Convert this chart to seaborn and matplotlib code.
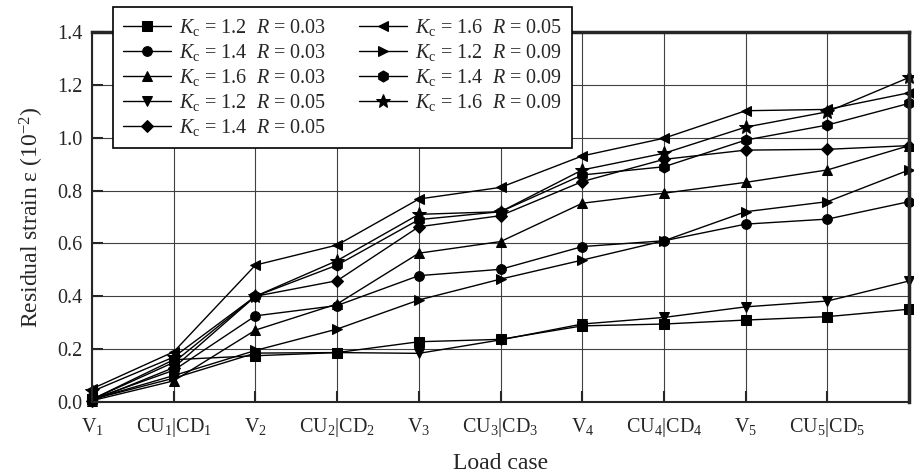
import matplotlib
matplotlib.use("Agg")
import matplotlib.pyplot as plt
import seaborn as sns

# --- data ---
load_cases = [r"V$_1$", r"CU$_1$|CD$_1$", r"V$_2$", r"CU$_2$|CD$_2$", r"V$_3$",
              r"CU$_3$|CD$_3$", r"V$_4$", r"CU$_4$|CD$_4$", r"V$_5$", r"CU$_5$|CD$_5$", ""]
steps = list(range(11))

kc12_r003 = [0.01, 0.16, 0.175, 0.187, 0.228, 0.237, 0.288, 0.295, 0.31, 0.323, 0.351]
kc14_r003 = [0.01, 0.12, 0.326, 0.365, 0.478, 0.502, 0.588, 0.61, 0.673, 0.692, 0.758]
kc16_r003 = [0.005, 0.08, 0.272, 0.371, 0.563, 0.607, 0.752, 0.79, 0.831, 0.878, 0.97]
kc12_r005 = [0.01, 0.09, 0.185, 0.187, 0.184, 0.235, 0.295, 0.32, 0.36, 0.382, 0.458]
kc14_r005 = [0.005, 0.13, 0.40, 0.459, 0.663, 0.705, 0.834, 0.918, 0.953, 0.956, 0.97]
kc16_r005 = [0.05, 0.19, 0.518, 0.594, 0.768, 0.812, 0.931, 0.998, 1.102, 1.107, 1.17]
kc12_r009 = [0.01, 0.10, 0.195, 0.276, 0.386, 0.465, 0.537, 0.61, 0.72, 0.758, 0.878]
kc14_r009 = [0.01, 0.15, 0.40, 0.518, 0.69, 0.72, 0.859, 0.89, 0.991, 1.048, 1.13]
kc16_r009 = [0.04, 0.17, 0.40, 0.535, 0.71, 0.72, 0.878, 0.941, 1.04, 1.098, 1.228]

series = [
    (kc12_r003, "s", "1.2", "0.03"),
    (kc14_r003, "o", "1.4", "0.03"),
    (kc16_r003, "^", "1.6", "0.03"),
    (kc12_r005, "v", "1.2", "0.05"),
    (kc14_r005, "D", "1.4", "0.05"),
    (kc16_r005, "<", "1.6", "0.05"),
    (kc12_r009, ">", "1.2", "0.09"),
    (kc14_r009, "h", "1.4", "0.09"),
    (kc16_r009, "*", "1.6", "0.09"),
]

sns.set_style("ticks")
plt.rcParams["font.family"] = ["Liberation Serif", "DejaVu Serif"]
plt.rcParams["mathtext.fontset"] = "custom"
plt.rcParams["mathtext.rm"] = "Liberation Serif"
plt.rcParams["mathtext.it"] = "Liberation Serif:italic"

fig = plt.figure(figsize=(9.14, 4.75), dpi=100)
ax = fig.add_axes([0.1007, 0.1537, 0.894, 0.779])

for values, mk, kc, r in series:
    size = {"*": 10, "h": 8, "D": 6.5}.get(mk, 7)
    sns.lineplot(x=steps, y=values, ax=ax, color="black", linewidth=1,
                 marker=mk, markersize=size, markeredgecolor="black",
                 label=rf"$K_{{\rm c}}$ = {kc}  $R$ = {r}", clip_on=False)

ax.set_xlim(0, 10)
ax.set_ylim(0, 1.4)
ax.set_xticks(steps)
ax.set_xticklabels(load_cases, fontsize=14.5)
ax.set_yticks([0.0, 0.2, 0.4, 0.6, 0.8, 1.0, 1.2, 1.4])
ax.set_yticklabels([f"{v:.1f}" for v in ax.get_yticks()], fontsize=14.5)
ax.tick_params(direction="in", length=8, width=1.5)
ax.tick_params(axis="x", pad=10)
ax.tick_params(axis="y", pad=7)
ax.grid(True, color="0.25", linewidth=0.8)

for side in ["left", "bottom"]:
    ax.spines[side].set_linewidth(1.5)
for side in ["top", "right"]:
    ax.spines[side].set_linewidth(2.5)
    ax.spines[side].set_visible(True)

ax.set_xlabel("Load case", fontsize=17, labelpad=10)
ax.set_ylabel(r"Residual strain ε (10$^{-2}$)", fontsize=17, labelpad=8)

leg = ax.legend(ncol=2, loc="upper left", bbox_to_anchor=(113 / 914, 1 - 7 / 475),
                bbox_transform=fig.transFigure, borderaxespad=0, fontsize=14.5,
                frameon=True, fancybox=False, framealpha=1, edgecolor="black",
                handlelength=2.4, labelspacing=0.2, columnspacing=1.6,
                borderpad=0.5, handletextpad=0.4)
leg.get_frame().set_linewidth(1.2)
leg.set_zorder(5)

fig.savefig("out.png", dpi=100)
